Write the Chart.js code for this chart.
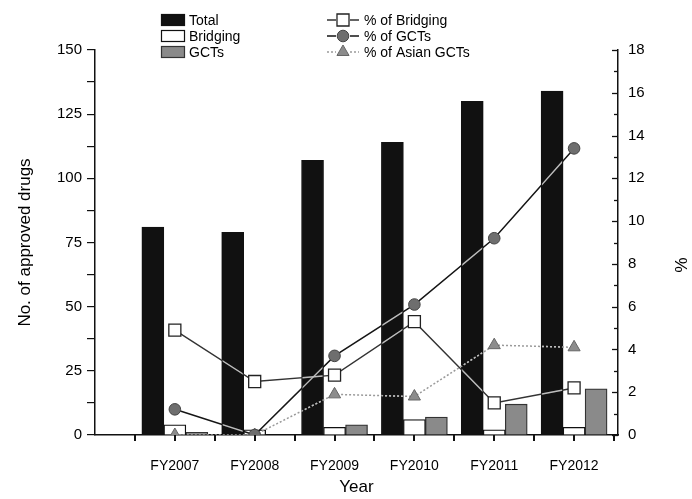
<!DOCTYPE html>
<html>
<head>
<meta charset="utf-8">
<script src="https://cdn.jsdelivr.net/npm/chart.js@4/dist/chart.umd.min.js"></script>
<style>
  html, body { margin: 0; padding: 0; background: #fff; }
  #wrap { width: 692px; height: 499px; }
</style>
</head>
<body>
<div id="wrap"><canvas id="c" width="692" height="499"></canvas></div>
<script>
// Fiscal years and approval counts
const categories = ['FY2007', 'FY2008', 'FY2009', 'FY2010', 'FY2011', 'FY2012'];
const totalApproved = [81, 79, 107, 114, 130, 134];
const bridgingApproved = [4, 2, 3, 6, 2, 3];
const gctApproved = [1, 0, 4, 7, 12, 18];

// Shares in percent (right axis)
const pctBridging = [4.9, 2.5, 2.8, 5.3, 1.5, 2.2];
const pctGCT = [1.2, 0, 3.7, 6.1, 9.2, 13.4];
const pctAsianGCT = [0, 0, 1.9, 1.8, 4.2, 4.1];

// Axis ranges
const leftMax = 150, leftStep = 25;
const rightMax = 18, rightStep = 2;
const rightTitle = '%';

const FONT = '"Liberation Sans", Arial, Helvetica, sans-serif';

// place each year at integer positions 1..6 on a linear x scale
const pts = arr => arr.map((v, i) => ({ x: i + 1, y: v }));

const seriesStyle = {
  total:    { fill: '#111111', border: '#111111' },
  bridging: { fill: '#ffffff', border: '#111111' },
  gct:      { fill: '#8a8a8a', border: '#333333' }
};

function drawMarker(ctx, style, r, x, y) {
  if (style === 'rect') {
    const s = Math.SQRT1_2 * r;
    ctx.rect(x - s, y - s, 2 * s, 2 * s);
  } else if (style === 'triangle') {
    ctx.moveTo(x, y - r);
    ctx.lineTo(x + r * Math.sin(2 * Math.PI / 3), y + r / 2);
    ctx.lineTo(x - r * Math.sin(2 * Math.PI / 3), y + r / 2);
    ctx.closePath();
  } else {
    ctx.arc(x, y, r, 0, Math.PI * 2);
  }
}

// legend entries (two columns), axis tick marks, pale line traces over the
// black bars, and the right-axis title
const decor = {
  id: 'decor',
  afterDraw(chart) {
    const ctx = chart.ctx;
    const area = chart.chartArea;
    const sets = chart.data.datasets;
    ctx.save();

    // connecting lines shown as pale traces where they cross a black bar
    const totalIdx = sets.findIndex(d => d.label === 'Total');
    chart.getDatasetMeta(totalIdx).data.forEach(b => {
      const left = b.x - b.width / 2;
      ctx.save();
      ctx.beginPath();
      ctx.rect(left + 1, b.y + 1, b.width - 2, b.base - b.y - 2);
      ctx.clip();
      sets.forEach((d, i) => {
        if (d.type !== 'line') return;
        const marks = chart.getDatasetMeta(i).data;
        ctx.strokeStyle = '#bdbdbd';
        ctx.lineWidth = 1.4;
        ctx.setLineDash(d.borderDash || []);
        ctx.beginPath();
        marks.forEach((pt, k) => (k ? ctx.lineTo(pt.x, pt.y) : ctx.moveTo(pt.x, pt.y)));
        ctx.stroke();
      });
      ctx.restore();
    });
    ctx.setLineDash([]);

    ctx.strokeStyle = '#111';
    ctx.lineWidth = 1.3;

    // inward ticks on the right axis
    const y2 = chart.scales.y2;
    y2.ticks.forEach(t => {
      const py = Math.round(y2.getPixelForValue(t.value)) + 0.5;
      const len = (t.value % rightStep === 0) ? 6 : 4;
      ctx.beginPath();
      ctx.moveTo(area.right - len, py);
      ctx.lineTo(area.right, py);
      ctx.stroke();
    });

    // downward ticks on the year axis, every half year
    const xs = chart.scales.x;
    ctx.lineWidth = 1.6;
    for (let v = 0.5; v <= 6.5; v += 0.5) {
      const px = Math.round(xs.getPixelForValue(v));
      ctx.fillStyle = '#111';
      ctx.fillRect(px - 1, area.bottom, 2, 6);
    }

    // right axis title, turned a quarter clockwise
    ctx.save();
    ctx.translate(680, 265);
    ctx.rotate(Math.PI / 2);
    ctx.font = '17px ' + FONT;
    ctx.fillStyle = '#000';
    ctx.textAlign = 'center';
    ctx.textBaseline = 'middle';
    ctx.fillText(rightTitle, 0, 0);
    ctx.restore();

    ctx.font = '14px ' + FONT;
    ctx.textBaseline = 'middle';
    ctx.textAlign = 'left';
    const rows = [20, 36, 52];

    // bar swatches
    const barSets = sets.filter(d => d.type === 'bar');
    barSets.forEach((d, i) => {
      const y = rows[i];
      ctx.fillStyle = d.backgroundColor;
      ctx.fillRect(161, y - 6, 24, 12);
      ctx.strokeStyle = d.borderColor;
      ctx.lineWidth = 1.2;
      ctx.strokeRect(161.5, y - 5.5, 23, 11);
      ctx.fillStyle = '#000';
      ctx.fillText(d.label, 189, y + 1);
    });

    // line + marker samples
    const lineSets = sets.filter(d => d.type === 'line');
    lineSets.forEach((d, i) => {
      const y = rows[i];
      const cx = 343;
      ctx.strokeStyle = d.borderColor;
      ctx.lineWidth = 1.3;
      ctx.setLineDash(d.borderDash || []);
      ctx.beginPath();
      ctx.moveTo(327, y); ctx.lineTo(336, y);
      ctx.moveTo(350, y); ctx.lineTo(359, y);
      ctx.stroke();
      ctx.setLineDash([]);
      ctx.fillStyle = d.pointBackgroundColor;
      ctx.strokeStyle = d.pointBorderColor;
      ctx.lineWidth = d.pointBorderWidth;
      ctx.beginPath();
      drawMarker(ctx, d.pointStyle, d.pointRadius, cx, y);
      ctx.fill();
      ctx.stroke();
      ctx.fillStyle = '#000';
      ctx.fillText(d.label, 364, y + 1);
    });
    ctx.restore();
  }
};

const axisFont = { family: FONT, size: 15 };
const titleFont = { family: FONT, size: 17 };

new Chart(document.getElementById('c'), {
  data: {
    datasets: [
      {
        type: 'line', label: '% of Bridging', yAxisID: 'y2', order: 0,
        data: pts(pctBridging),
        borderColor: '#333', borderWidth: 1.4,
        pointStyle: 'rect', pointRadius: 8.5, pointBorderWidth: 1.3,
        pointBackgroundColor: '#fff', pointBorderColor: '#222'
      },
      {
        type: 'line', label: '% of GCTs', yAxisID: 'y2', order: 0,
        data: pts(pctGCT),
        borderColor: '#151515', borderWidth: 1.5,
        pointStyle: 'circle', pointRadius: 5.8, pointBorderWidth: 1,
        pointBackgroundColor: '#6e6e6e', pointBorderColor: '#444'
      },
      {
        type: 'line', label: '% of Asian GCTs', yAxisID: 'y2', order: 0,
        data: pts(pctAsianGCT),
        borderColor: '#9a9a9a', borderWidth: 1.5, borderDash: [2, 2],
        pointStyle: 'triangle', pointRadius: 7, pointBorderWidth: 1,
        pointBackgroundColor: '#8c8c8c', pointBorderColor: '#666'
      },
      {
        type: 'bar', label: 'Total', yAxisID: 'y', order: 1,
        data: pts(totalApproved),
        backgroundColor: seriesStyle.total.fill, borderColor: seriesStyle.total.border,
        borderWidth: 1, barThickness: 22
      },
      {
        type: 'bar', label: 'Bridging', yAxisID: 'y', order: 1,
        data: pts(bridgingApproved),
        backgroundColor: seriesStyle.bridging.fill, borderColor: seriesStyle.bridging.border,
        borderWidth: 1.3, barThickness: 22
      },
      {
        type: 'bar', label: 'GCTs', yAxisID: 'y', order: 1,
        data: pts(gctApproved),
        backgroundColor: seriesStyle.gct.fill, borderColor: seriesStyle.gct.border,
        borderWidth: 1.3, barThickness: 22
      }
    ]
  },
  options: {
    responsive: false,
    devicePixelRatio: 1,
    animation: false,
    layout: { padding: { top: 50, left: 0, right: 0, bottom: 0 } },
    plugins: {
      legend: { display: false },
      tooltip: { enabled: false }
    },
    scales: {
      x: {
        type: 'linear', position: 'bottom', offset: false,
        min: 0, max: 6.55,
        grid: { display: false },
        border: { display: true, color: '#111', width: 1.5 },
        ticks: {
          stepSize: 0.5, includeBounds: false, autoSkip: false, maxRotation: 0,
          color: '#000', font: { family: FONT, size: 14 }, padding: 15,
          callback: v => {
            const r = Math.round(v);
            return (Math.abs(v - r) < 1e-6 && categories[r - 1]) ? categories[r - 1] : '';
          }
        },
        title: { display: true, text: 'Year', color: '#000', font: titleFont, padding: { top: 0, bottom: 1 } },
        afterFit: s => { s.height = 64; }
      },
      y: {
        type: 'linear', position: 'left',
        min: 0, max: leftMax,
        grid: { drawOnChartArea: false, drawTicks: true, tickLength: 8, color: '#111', lineWidth: 1.2 },
        border: { display: true, color: '#111', width: 1.5 },
        ticks: {
          stepSize: leftStep / 2, autoSkip: false, color: '#000', font: axisFont, padding: 5,
          callback: v => (v % leftStep === 0 ? String(v) : '')
        },
        title: { display: true, text: 'No. of approved drugs', color: '#000', font: titleFont, padding: { top: 15, bottom: 0 } },
        afterFit: s => { s.width = 95; }
      },
      y2: {
        type: 'linear', position: 'right',
        min: 0, max: rightMax,
        grid: { drawOnChartArea: false, drawTicks: false },
        border: { display: true, color: '#111', width: 1.5 },
        ticks: {
          stepSize: rightStep / 2, autoSkip: false, color: '#000', font: axisFont, padding: 10,
          callback: v => (v % rightStep === 0 ? String(v) : '')
        },
        title: { display: false },
        afterFit: s => { s.width = 74; }
      }
    }
  },
  plugins: [decor]
});
</script>
</body>
</html>
